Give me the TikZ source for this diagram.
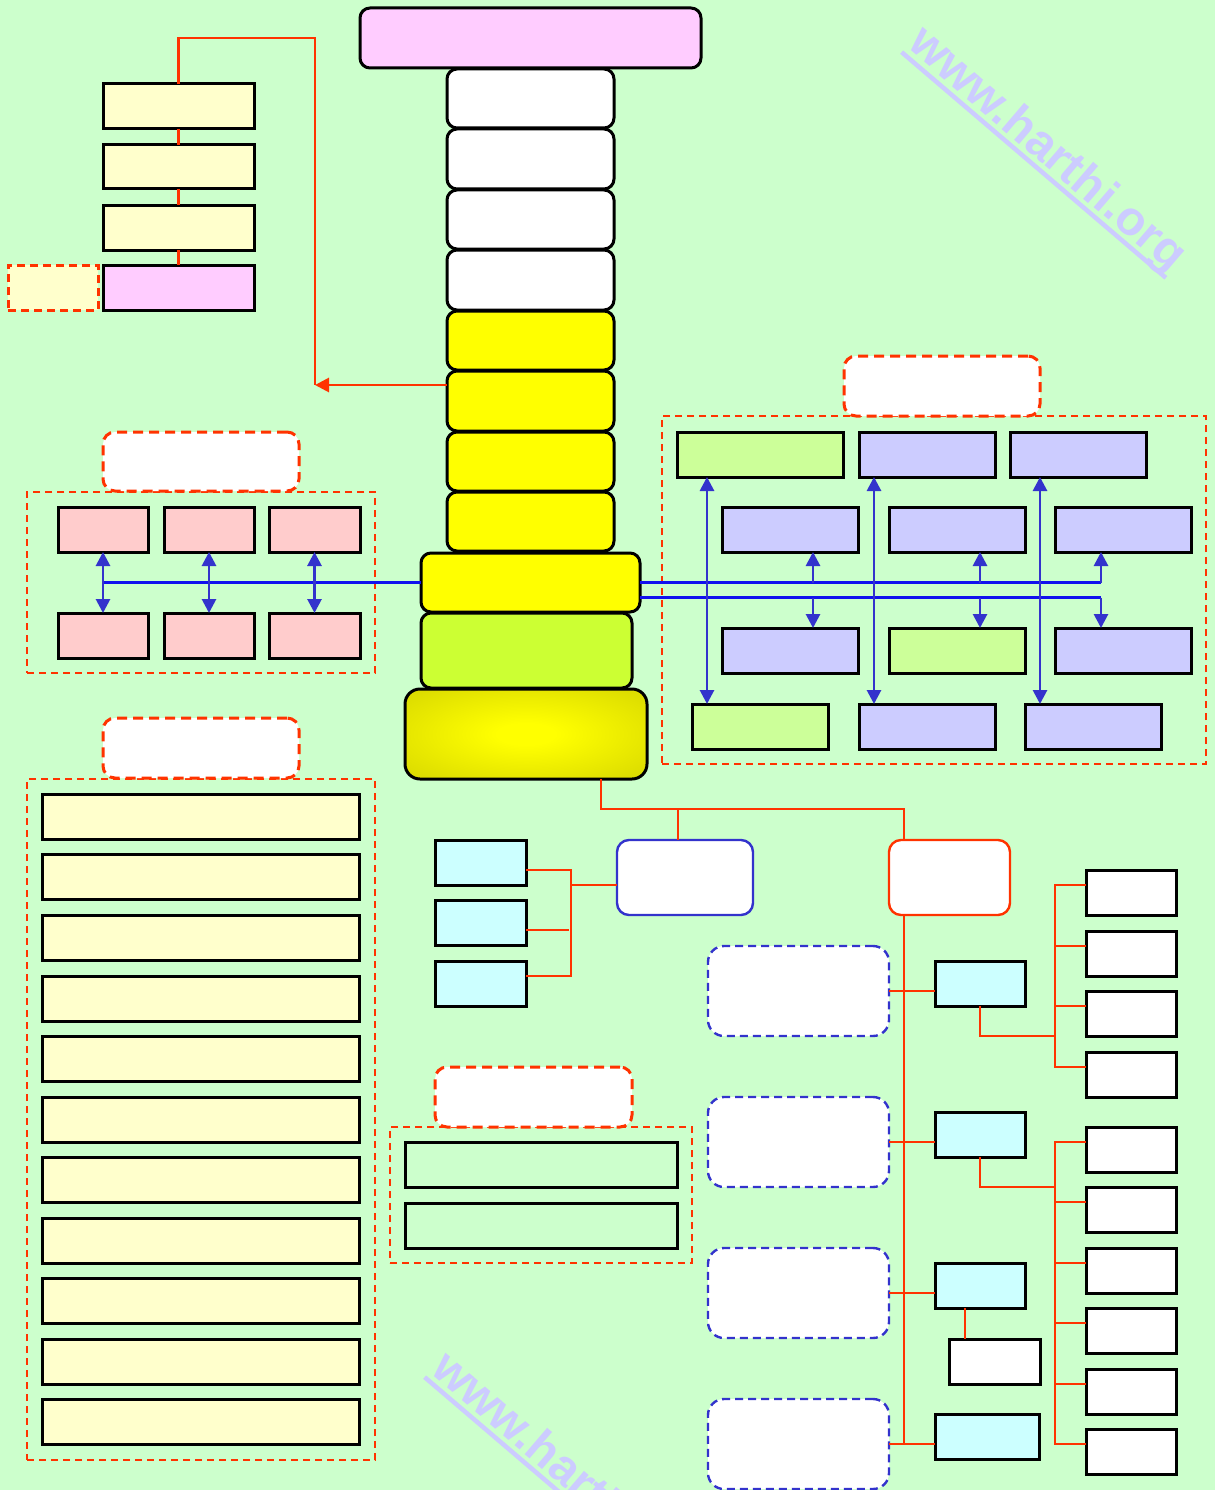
\documentclass[tikz,border=0pt]{standalone}
\usepackage{fontspec}
\newfontfamily\wmfont{Liberation Sans}
\usetikzlibrary{arrows.meta}
\definecolor{bgc}{HTML}{CCFFCC}
\definecolor{pinkc}{HTML}{FFCCFF}
\definecolor{lyel}{HTML}{FFFFCC}
\definecolor{yelc}{HTML}{FFFF00}
\definecolor{limec}{HTML}{CCFF33}
\definecolor{gyel}{HTML}{DDDD00}
\definecolor{salm}{HTML}{FFCCCC}
\definecolor{grn}{HTML}{CCFF99}
\definecolor{lav}{HTML}{CCCCFF}
\definecolor{cyanc}{HTML}{CCFFFF}
\definecolor{redc}{HTML}{FF3300}
\definecolor{bluec}{HTML}{3333CC}
\definecolor{hblue}{HTML}{1111EE}
\definecolor{wmc}{HTML}{CCCCFF}
\pgfdeclareradialshading{glow}{\pgfpoint{0bp}{0bp}}{color(0bp)=(yelc); color(6bp)=(yelc); color(32bp)=(gyel); color(50bp)=(gyel)}
\newcommand\bx[6]{\node[#1,anchor=north west,minimum width={#5-#3},minimum height={#6-#4}] (#2) at (#3,#4) {};}
\newcommand\wmtext{\setbox0\hbox{www.harthi.org}\rlap{\rule[-9pt]{\wd0}{4.5pt}}\box0}
\begin{document}
\begin{tikzpicture}[x=1pt,y=-1pt,
  every node/.style={inner sep=0pt,outer sep=0pt},
  >={Triangle[length=14pt,width=14pt]},
  blk/.style={draw=black,line width=3pt},
  rbox/.style={blk,rounded corners=10pt},
  grp/.style={draw=redc,line width=2.2pt,dash pattern=on 7pt off 5pt},
  lbl/.style={draw=redc,fill=white,line width=3pt,dash pattern=on 10pt off 6pt,rounded corners=12pt},
  bdash/.style={draw=bluec,fill=white,line width=2.4pt,dash pattern=on 8pt off 5pt,rounded corners=16pt},
  redl/.style={draw=redc,line width=2.8pt},
  hb/.style={draw=hblue,line width=2.8pt},
  va/.style={draw=bluec,line width=2.8pt},
  wm/.style={text=wmc,font=\wmfont\bfseries\fontsize{48}{56}\selectfont,rotate=-40.5,anchor=base west}]
\useasboundingbox (0,0) rectangle (1215,1490);
\fill[bgc] (0,0) rectangle (1215,1490);
% watermarks
\node[wm] (wm1) at (906,47) {\wmtext};
\node[wm] (wm2) at (429,1372) {\wmtext};
% group frames
\bx{grp}{gL1}{27}{492}{375}{673}
\bx{grp}{gL2}{27}{779}{375}{1460}
\bx{grp}{gR}{662}{416}{1206}{764}
\bx{grp}{gM}{390}{1127}{692}{1263}
\bx{lbl}{lL1}{103}{432}{299}{491}
\bx{lbl}{lL2}{103}{718}{299}{778}
\bx{lbl}{lR}{844}{356}{1040}{416}
\bx{lbl}{lM}{435}{1067}{632}{1127}
% central stack
\bx{rbox,fill=pinkc}{top}{360}{8}{701}{68}
\bx{rbox,fill=white}{w1}{447}{69}{614}{128}
\bx{rbox,fill=white}{w2}{447}{129}{614}{189}
\bx{rbox,fill=white}{w3}{447}{190}{614}{249}
\bx{rbox,fill=white}{w4}{447}{250}{614}{310}
\bx{rbox,fill=yelc}{y1}{447}{311}{614}{370}
\bx{rbox,fill=yelc}{y2}{447}{371}{614}{431}
\bx{rbox,fill=yelc}{y3}{447}{432}{614}{491}
\bx{rbox,fill=yelc}{y4}{447}{492}{614}{551}
\bx{rbox,fill=yelc}{bigY}{421}{553}{640}{612}
\bx{rbox,fill=limec}{lime}{421}{613}{632}{688}
\bx{blk,rounded corners=15pt,shade,shading=glow}{G}{405}{689}{647}{779}
% left top stack
\bx{blk,fill=lyel}{ls1}{103}{84}{254}{129}
\bx{blk,fill=lyel}{ls2}{103}{145}{254}{189}
\bx{blk,fill=lyel}{ls3}{103}{205}{254}{250}
\bx{blk,fill=pinkc}{ls4}{103}{265}{254}{310}
\bx{draw=redc,fill=lyel,line width=3pt,dash pattern=on 8pt off 5pt}{lsd}{8}{265}{98}{310}
% left group pinks
\bx{blk,fill=salm}{p1}{58}{507}{148}{552}
\bx{blk,fill=salm}{p2}{164}{507}{254}{552}
\bx{blk,fill=salm}{p3}{269}{507}{360}{552}
\bx{blk,fill=salm}{p4}{58}{613}{148}{658}
\bx{blk,fill=salm}{p5}{164}{613}{254}{658}
\bx{blk,fill=salm}{p6}{269}{613}{360}{658}
% left long list
\foreach \i/\t in {1/794,2/854,3/915,4/976,5/1036,6/1097,7/1157,8/1218,9/1278,10/1339,11/1399}{
  \bx{blk,fill=lyel}{ll\i}{42}{\t}{359}{\t+45}
}
% right group
\bx{blk,fill=grn}{ra1}{677}{432}{843}{477}
\bx{blk,fill=lav}{ra2}{859}{432}{995}{477}
\bx{blk,fill=lav}{ra3}{1010}{432}{1146}{477}
\bx{blk,fill=lav}{rb1}{722}{507}{858}{552}
\bx{blk,fill=lav}{rb2}{889}{507}{1025}{552}
\bx{blk,fill=lav}{rb3}{1055}{507}{1191}{552}
\bx{blk,fill=lav}{rc1}{722}{628}{858}{673}
\bx{blk,fill=grn}{rc2}{889}{628}{1025}{673}
\bx{blk,fill=lav}{rc3}{1055}{628}{1191}{673}
\bx{blk,fill=grn}{rd1}{692}{704}{828}{749}
\bx{blk,fill=lav}{rd2}{859}{704}{995}{749}
\bx{blk,fill=lav}{rd3}{1025}{704}{1161}{749}
% middle bottom
\bx{blk}{m1}{405}{1142}{677}{1187}
\bx{blk}{m2}{405}{1203}{677}{1248}
% bottom tree
\bx{draw=bluec,fill=white,line width=2.4pt,rounded corners=12pt}{B}{617}{840}{753}{915}
\bx{draw=redc,fill=white,line width=2.4pt,rounded corners=12pt}{R}{889}{840}{1010}{915}
\bx{blk,fill=cyanc}{c1}{435}{840}{526}{885}
\bx{blk,fill=cyanc}{c2}{435}{900}{526}{945}
\bx{blk,fill=cyanc}{c3}{435}{961}{526}{1006}
\bx{bdash}{D1}{708}{946}{889}{1036}
\bx{bdash}{D2}{708}{1097}{889}{1187}
\bx{bdash}{D3}{708}{1248}{889}{1338}
\bx{bdash}{D4}{708}{1399}{889}{1489}
\bx{blk,fill=cyanc}{Q1}{935}{961}{1025}{1006}
\bx{blk,fill=cyanc}{Q2}{935}{1112}{1025}{1157}
\bx{blk,fill=cyanc}{Q3}{935}{1263}{1025}{1308}
\bx{blk,fill=cyanc}{Q4}{935}{1414}{1039}{1459}
\bx{blk,fill=white}{W11}{949}{1339}{1040}{1384}
\foreach \i/\t in {1/870,2/931,3/991,4/1052}{
  \bx{blk,fill=white}{Wa\i}{1086}{\t}{1176}{\t+45}
}
\foreach \i/\t in {1/1127,2/1187,3/1248,4/1308,5/1369,6/1429}{
  \bx{blk,fill=white}{Wb\i}{1086}{\t}{1176}{\t+45}
}
% ---- connectors ----
% left stack
\coordinate (rt) at (315,38);
\coordinate (ay) at ([yshift=16pt]y2.west);
\draw[redl] (ls1.north) |- (rt) -- (rt |- ay);
\draw[redl,->] (ay) -- (rt |- ay);
\draw[redl] (ls1.south) -- (ls2.north);
\draw[redl] (ls2.south) -- (ls3.north);
\draw[redl] (ls3.south) -- (ls4.north);
% left group
\draw[hb] (bigY.west) -- (bigY.west -| p1.south);
\draw[va,<->] (p1.south) -- (p4.north);
\draw[va,<->] (p2.south) -- (p5.north);
\draw[va,<->] (p3.south) -- (p6.north);
% right group
\coordinate (lo0) at ([yshift=-15pt]bigY.east);
\coordinate (u3) at ([xshift=46pt]rb3.south west |- bigY.east);
\coordinate (l3) at ([xshift=46pt]rc3.north west |- lo0);
\draw[hb] (bigY.east) -- (u3);
\draw[hb] (lo0) -- (l3);
\draw[va,->] (u3) -- ([xshift=46pt]rb3.south west);
\draw[va,->] (l3) -- ([xshift=46pt]rc3.north west);
\draw[va,->] ([xshift=91pt]rb1.south west |- bigY.east) -- ([xshift=91pt]rb1.south west);
\draw[va,->] ([xshift=91pt]rc1.north west |- lo0) -- ([xshift=91pt]rc1.north west);
\draw[va,->] ([xshift=91pt]rb2.south west |- bigY.east) -- ([xshift=91pt]rb2.south west);
\draw[va,->] ([xshift=91pt]rc2.north west |- lo0) -- ([xshift=91pt]rc2.north west);
\draw[va,<->] ([xshift=30pt]ra1.south west) -- ([xshift=30pt]ra1.south west |- rd1.north);
\draw[va,<->] ([xshift=15pt]ra2.south west) -- ([xshift=15pt]ra2.south west |- rd2.north);
\draw[va,<->] ([xshift=30pt]ra3.south west) -- ([xshift=30pt]ra3.south west |- rd3.north);
% bottom tree
\draw[redl] ([xshift=196pt]G.south west) -- ++(0,30) -| ([xshift=15pt]R.north west);
\draw[redl] ([xshift=61pt]B.north west) -- ++(0,-31);
\draw[redl] ([yshift=-7.5pt]B.west) -- ++(-46,0);
\draw[redl] ([yshift=-7.5pt]c1.east) -- ++(45,0) |- ([yshift=7.5pt]c3.east);
\draw[redl] ([yshift=-7.5pt]c2.east) -- ++(43,0);
\draw[redl] ([xshift=15pt]R.south west) -- ([xshift=15pt]R.south west |- D4.east);
\foreach \k in {1,2,3,4}{ \draw[redl] (D\k.east) -- (D\k.east -| Q\k.west); }
\draw[redl] ([xshift=-15pt]Q3.south) -- ([xshift=-15pt]Q3.south |- W11.north);
\draw[redl] (Q1.south) -- ++(0,30) -- ++(75,0);
\draw[redl] ([yshift=7.5pt]Wa1.west) -- ++(-31,0) |- ([yshift=7.5pt]Wa4.west);
\foreach \k in {2,3}{ \draw[redl] ([yshift=7.5pt]Wa\k.west) -- ++(-31,0); }
\draw[redl] (Q2.south) -- ++(0,30) -- ++(75,0);
\draw[redl] ([yshift=7.5pt]Wb1.west) -- ++(-31,0) |- ([yshift=7.5pt]Wb6.west);
\foreach \k in {2,3,4,5}{ \draw[redl] ([yshift=7.5pt]Wb\k.west) -- ++(-31,0); }
\end{tikzpicture}
\end{document}
